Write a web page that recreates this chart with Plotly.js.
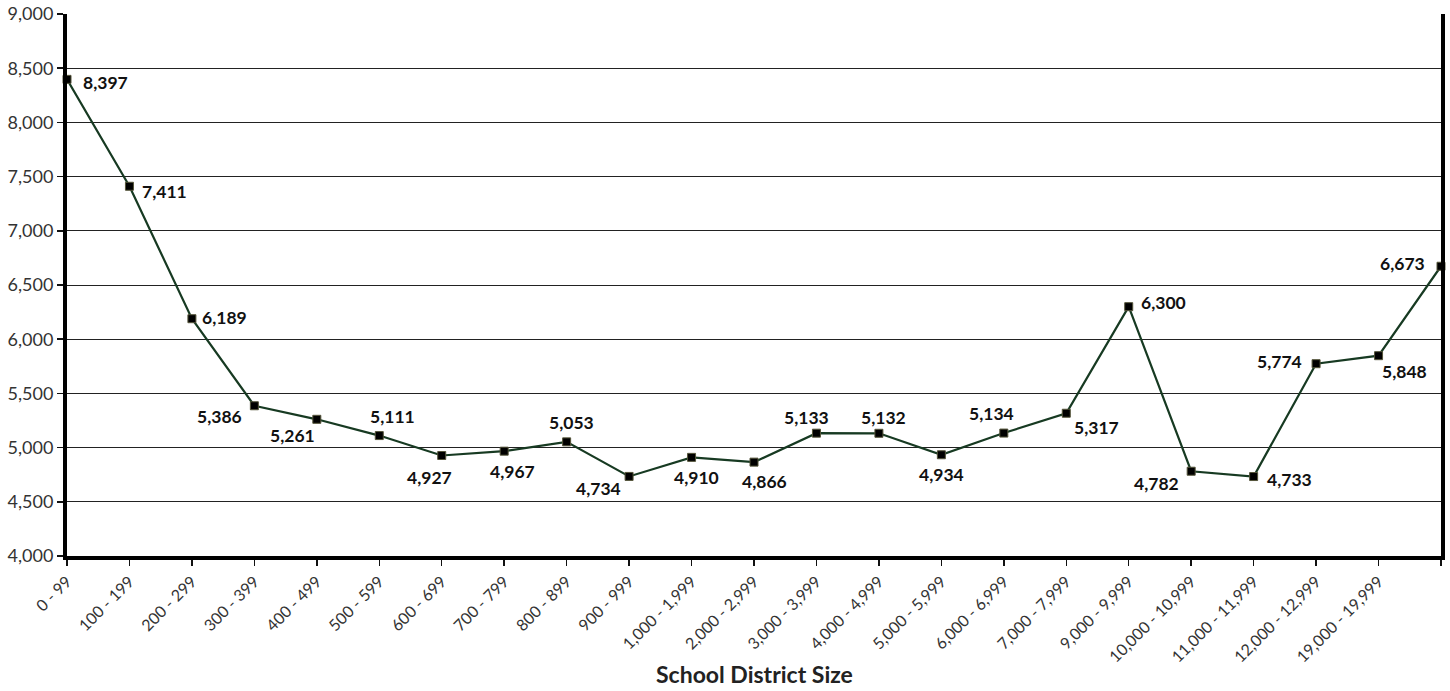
<!DOCTYPE html>
<html>
<head>
<meta charset="utf-8">
<script src="https://cdn.plot.ly/plotly-3.0.1.min.js"></script>
<style>html,body{margin:0;padding:0;background:#fff;}#chart{width:1450px;height:691px;}</style>
</head>
<body>
<div id="chart"></div>
<script>
const categories = ["0 - 99","100 - 199","200 - 299","300 - 399","400 - 499","500 - 599","600 - 699","700 - 799","800 - 899","900 - 999","1,000 - 1,999","2,000 - 2,999","3,000 - 3,999","4,000 - 4,999","5,000 - 5,999","6,000 - 6,999","7,000 - 7,999","9,000 - 9,999","10,000 - 10,999","11,000 - 11,999","12,000 - 12,999","19,000 - 19,999",""];
const values = [8397,7411,6189,5386,5261,5111,4927,4967,5053,4734,4910,4866,5133,5132,4934,5134,5317,6300,4782,4733,5774,5848,6673];
const yTicks = [4000,4500,5000,5500,6000,6500,7000,7500,8000,8500,9000];
const xTitle = "School District Size";
// label offsets in pixels [dx, dy(up)]
const labelOffsets = [[38,-3],[35,-5],[33,1],[-35,-11],[-24,-16],[13,19],[-12,-22],[8,-20],[5,19],[-31,-12],[5,-20],[10,-19],[-10,16],[5,16],[0,-20],[-12,20],[30,-14],[35,4],[-35,-12],[36,-3],[-37,2],[26,-16],[-39,3]];

const idx = values.map((v,i)=>i);
const annotations = values.map((v,i)=>({
  x: i, y: v, xref:'x', yref:'y', showarrow:false,
  text: '<b>' + v.toLocaleString('en-US') + '</b>',
  xshift: labelOffsets[i][0], yshift: labelOffsets[i][1],
  font:{family:'Lato, "Open Sans", sans-serif', size:17.5, color:'#111'}
}));
annotations.push({
  x:0.5, y:-0.245, xref:'paper', yref:'paper', showarrow:false,
  text:'<b>' + xTitle + '</b>', yanchor:'bottom', borderpad:0,
  font:{family:'Lato, "Open Sans", sans-serif', size:23, color:'#222'}
});

const trace = {
  x: idx, y: values, type:'scatter', mode:'lines+markers',
  line:{color:'#173a22', width:2.2},
  marker:{symbol:'square', size:8, color:'#000', line:{color:'#55553a', width:1}},
  cliponaxis:false, hoverinfo:'skip'
};

const layout = {
  width:1450, height:691,
  margin:{l:67, r:9, t:14, b:135},
  paper_bgcolor:'#fff', plot_bgcolor:'#fff',
  showlegend:false,
  font:{family:'Lato, "Open Sans", sans-serif', color:'#333'},
  xaxis:{
    range:[0,22], tickvals: idx, ticktext: categories,
    tickangle:-45, tickfont:{size:16, color:'#333'},
    ticks:'outside', ticklen:6, tickcolor:'#111', tickwidth:1.5,
    showline:true, linecolor:'#000', linewidth:4,
    showgrid:false, zeroline:false, fixedrange:true, automargin:false
  },
  yaxis:{
    range:[4000,9000], tickvals:yTicks,
    tickformat:',d', tickfont:{size:18, color:'#333'},
    ticks:'outside', ticklen:6, tickcolor:'#111', tickwidth:1.5,
    showline:true, linecolor:'#000', linewidth:4, mirror:true,
    showgrid:true, gridcolor:'#222', gridwidth:1,
    zeroline:false, fixedrange:true, automargin:false
  },
  annotations: annotations
};

Plotly.newPlot('chart',[trace],layout,{displayModeBar:false, staticPlot:true});
</script>
</body>
</html>
